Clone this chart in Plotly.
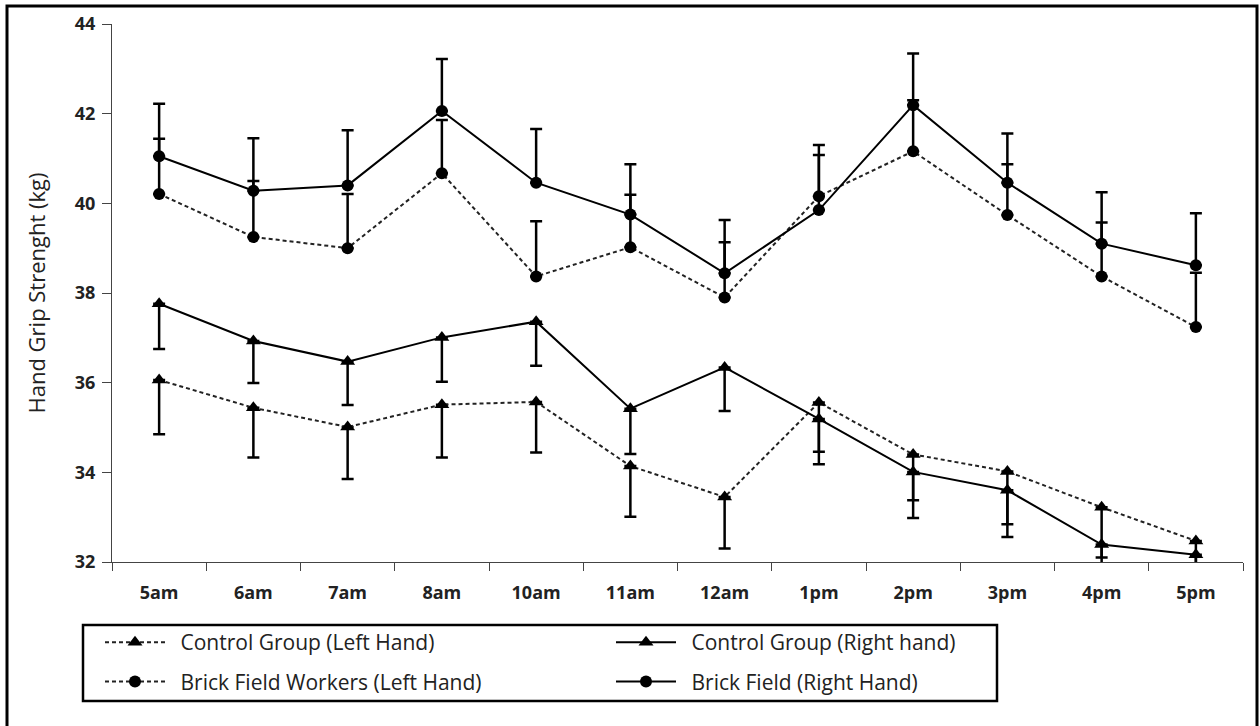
import plotly.graph_objects as go

categories = ["5am", "6am", "7am", "8am", "10am", "11am", "12am", "1pm", "2pm", "3pm", "4pm", "5pm"]

control_left = [36.06, 35.44, 35.01, 35.51, 35.57, 34.14, 33.45, 35.56, 34.40, 34.02, 33.22, 32.47]
control_left_err = [1.21, 1.11, 1.16, 1.18, 1.13, 1.13, 1.15, 1.10, 1.02, 1.18, 1.12, 1.10]

control_right = [37.76, 36.93, 36.47, 37.01, 37.36, 35.42, 36.34, 35.19, 34.01, 33.60, 32.39, 32.16]
control_right_err = [1.01, 0.94, 0.97, 0.99, 0.98, 1.01, 0.97, 1.01, 1.03, 1.04, 1.00, 1.00]

brick_left = [40.21, 39.25, 39.00, 40.67, 38.37, 39.02, 37.90, 40.16, 41.16, 39.74, 38.37, 37.24]
brick_left_err = [1.23, 1.25, 1.21, 1.19, 1.23, 1.17, 1.23, 1.14, 1.14, 1.13, 1.20, 1.21]

brick_right = [41.05, 40.28, 40.40, 42.06, 40.46, 39.75, 38.44, 39.85, 42.19, 40.46, 39.10, 38.62]
brick_right_err = [1.17, 1.17, 1.23, 1.16, 1.20, 1.12, 1.19, 1.23, 1.15, 1.10, 1.15, 1.16]

names = ["Control Group (Left Hand)", "Control Group (Right hand)",
         "Brick Field Workers (Left Hand)", "Brick Field (Right Hand)"]

zeros = [0] * len(categories)
GAP = "\u2002"

fig = go.Figure()

def add(name, vals, errs, up, dotted, symbol, legend, group):
    err = dict(type="data", symmetric=False,
               array=errs if up else zeros,
               arrayminus=zeros if up else errs,
               color="black", thickness=2.5, width=6)
    fig.add_trace(go.Scatter(
        x=categories, y=vals, name=GAP + name, mode="lines+markers",
        line=dict(color="#222" if dotted else "black", width=2,
                  dash="4px,3px" if dotted else "solid"),
        marker=dict(symbol=symbol, size=12 if symbol == "circle" else 13, color="black"),
        error_y=err, legend=legend, legendgroup=group,
    ))

add(names[0], control_left, control_left_err, False, True, "triangle-up", "legend", "a")
add(names[2], brick_left, brick_left_err, True, True, "circle", "legend", "b")
add(names[1], control_right, control_right_err, False, False, "triangle-up", "legend2", "c")
add(names[3], brick_right, brick_right_err, True, False, "circle", "legend2", "d")

L, R, T, B = 112, 17, 24, 164
W, H = 1260, 726
pw, ph = W - L - R, H - T - B

def px(x):
    return (x - L) / pw

def py(y):
    return (H - B - y) / ph

legend_font = dict(family="Open Sans", size=21, color="#222")
common_legend = dict(orientation="v", xanchor="left", yanchor="top", bgcolor="rgba(0,0,0,0)",
                     borderwidth=0, font=legend_font, itemwidth=60, tracegroupgap=9,
                     traceorder="grouped")

fig.update_layout(
    width=W, height=H,
    margin=dict(l=L, r=R, t=T, b=B, autoexpand=False),
    paper_bgcolor="white", plot_bgcolor="white",
    showlegend=True,
    legend=dict(x=px(100), y=py(622), **common_legend),
    legend2=dict(x=px(611), y=py(622), **common_legend),
    xaxis=dict(type="category", range=[-0.5, 11.5], showline=True, linecolor="#444", linewidth=1.3,
               ticks="outside", tickson="boundaries", ticklen=8, tickcolor="#444", tickwidth=1.3,
               tickfont=dict(family="Open Sans", size=18, color="#222", weight="bold"),
               ticklabelstandoff=14, showgrid=False, zeroline=False),
    yaxis=dict(range=[32, 44], dtick=2, showline=True, linecolor="#444", linewidth=1.3,
               ticks="outside", ticklen=9, tickcolor="#444", tickwidth=1.3,
               tickfont=dict(family="Open Sans", size=18, color="#222", weight="bold"),
               ticklabelstandoff=3, showgrid=False, zeroline=False,
               title=dict(text="Hand Grip Strenght (kg)", standoff=22,
                          font=dict(family="Open Sans", size=22, color="#222"))),
    shapes=[
        dict(type="rect", xref="paper", yref="paper", x0=px(83), x1=px(997), y0=py(701), y1=py(625),
             line=dict(color="black", width=2.5)),
        dict(type="path", xref="paper", yref="paper",
             path=f"M {px(7)} {py(760)} L {px(7)} {py(6)} L {px(1257)} {py(6)} L {px(1257)} {py(760)}",
             line=dict(color="black", width=3)),
    ],
)

fig.write_html("out.html", config={"displayModeBar": False},
               post_script="document.body.style.margin='0';document.body.style.overflow='hidden';")
